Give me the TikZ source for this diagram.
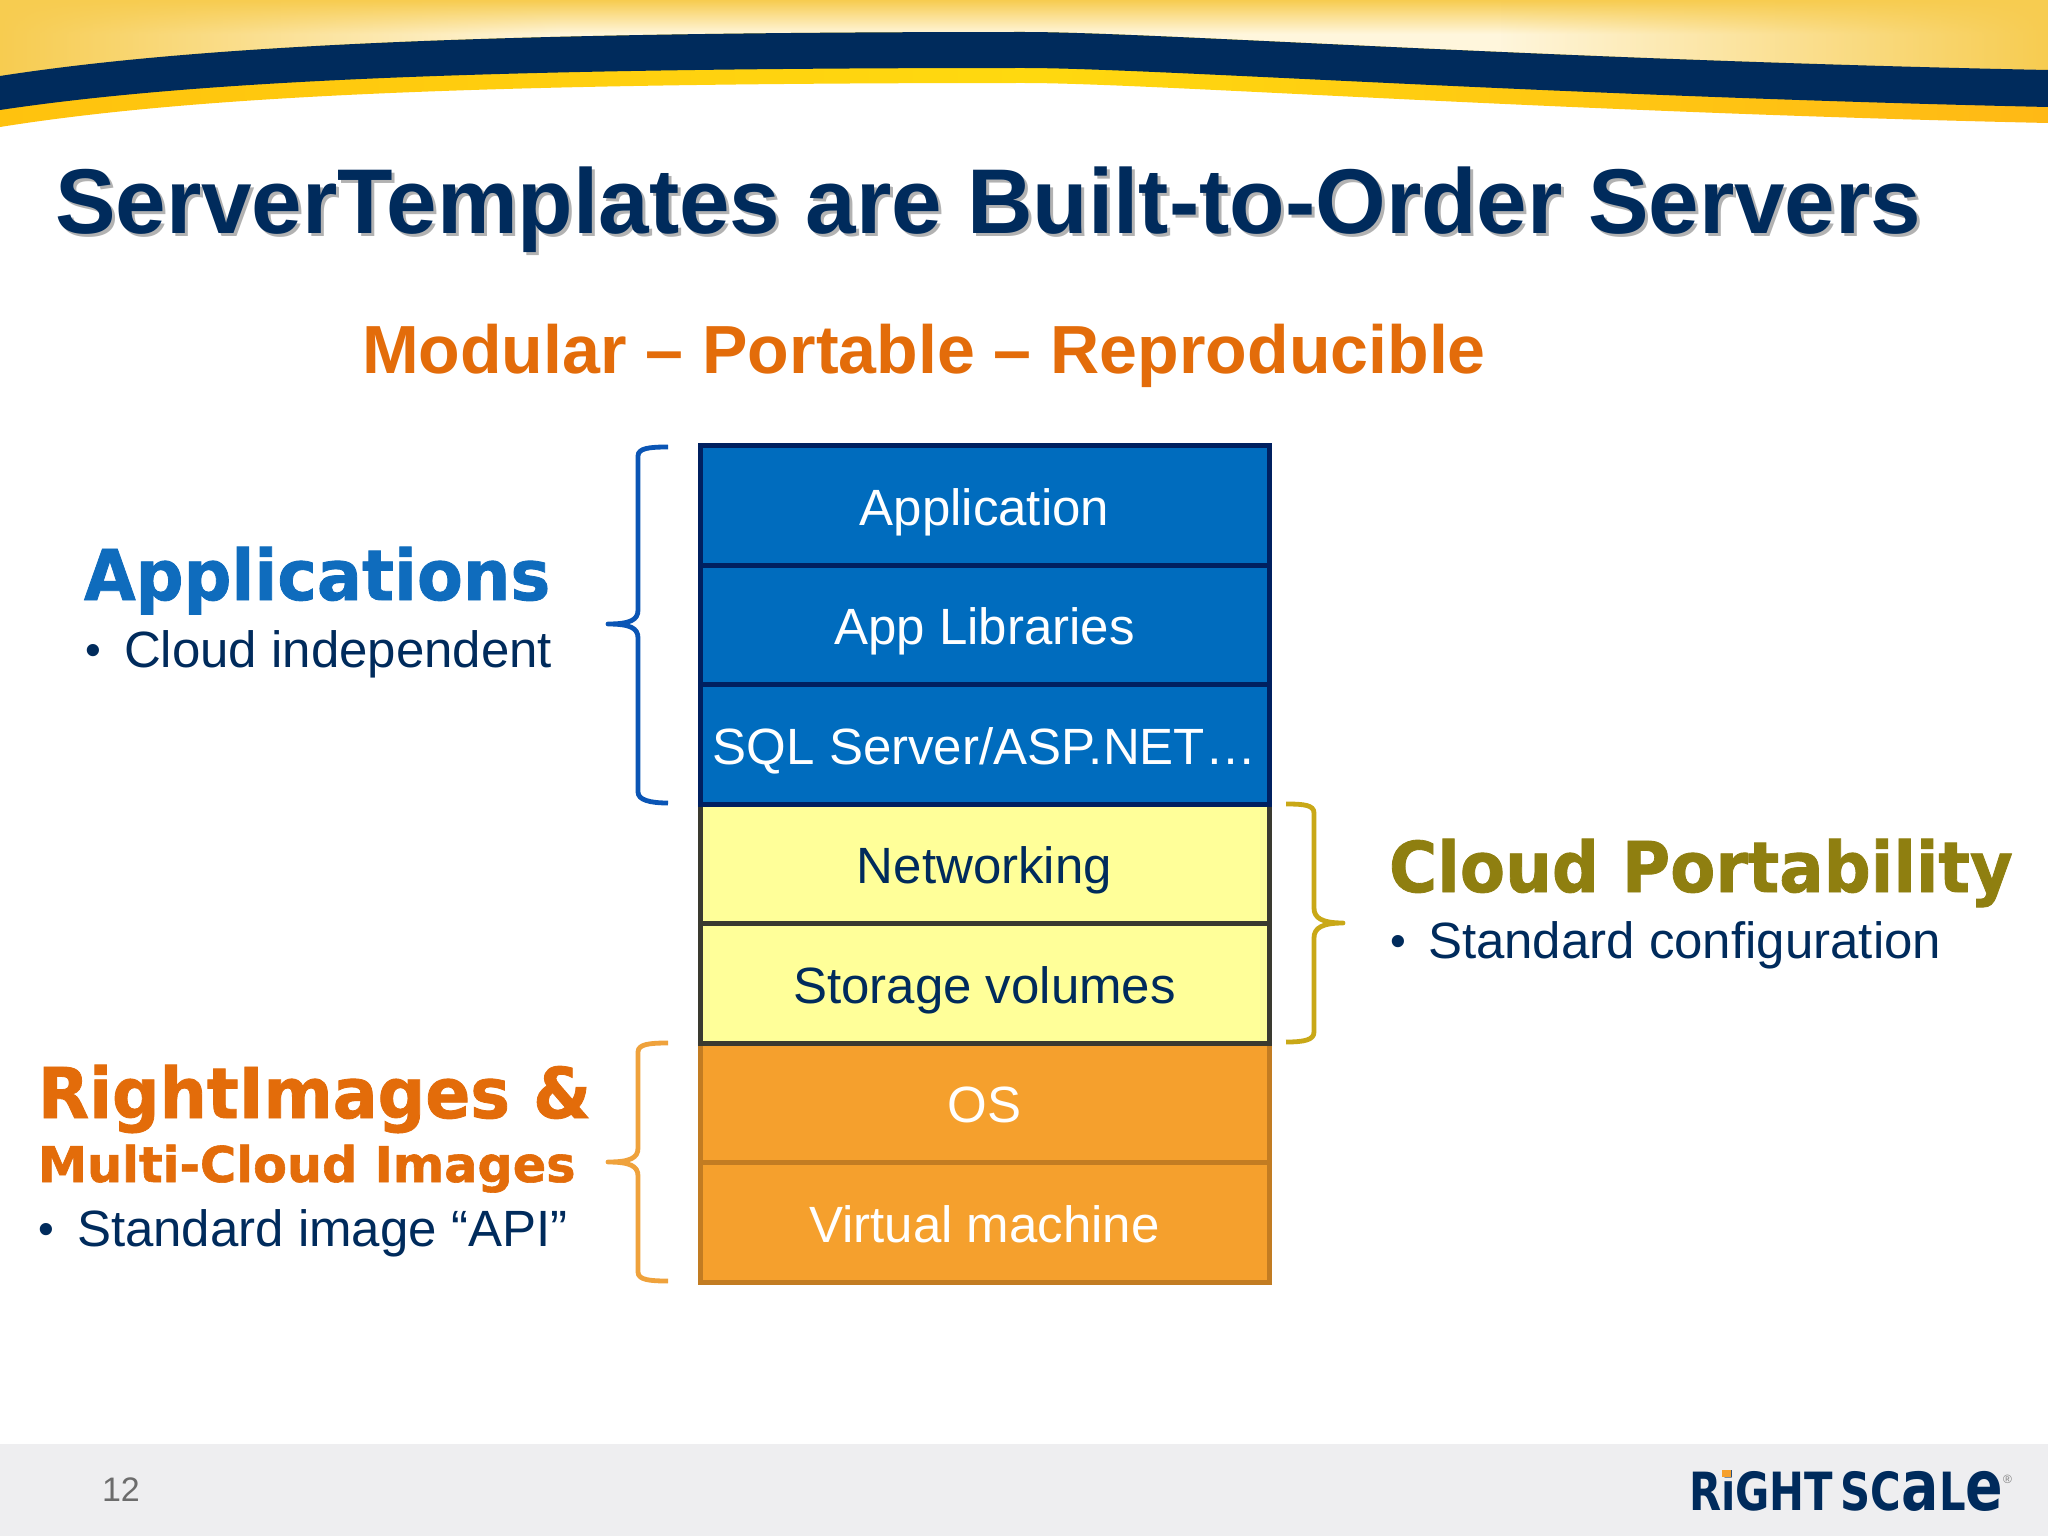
\documentclass[tikz,border=0pt]{standalone}
\usepackage{fontspec}
\usetikzlibrary{fadings,calc}
\setmainfont{Liberation Sans}
\newfontfamily\widefont{DejaVu Sans Bold}[FakeBold=1.2]
\newfontfamily\logofont{DejaVu Sans Bold}
\definecolor{navy}{HTML}{002B5C}
\definecolor{washgold}{HTML}{F7CC50}
\definecolor{washpale}{HTML}{FFF6DC}
\definecolor{bandA}{HTML}{FFC20E}
\definecolor{bandB}{HTML}{FFD90F}
\definecolor{bandC}{HTML}{FFB915}
\definecolor{stackblue}{HTML}{006CBE}
\definecolor{stackblueedge}{HTML}{002060}
\definecolor{stackyellow}{HTML}{FFFF99}
\definecolor{stackyellowedge}{HTML}{3A3A30}
\definecolor{stackorange}{HTML}{F5A02D}
\definecolor{stackorangeedge}{HTML}{C27C22}
\definecolor{titleorange}{HTML}{E36C0A}
\definecolor{bluehead}{HTML}{0F6CBD}
\definecolor{olivehead}{HTML}{8F7F10}
\definecolor{braceblue}{HTML}{0A55B5}
\definecolor{bracegold}{HTML}{C9A817}
\definecolor{braceorange}{HTML}{EFA23C}
\definecolor{footgray}{HTML}{EEEEF0}
\definecolor{logodot}{HTML}{F5A02D}
\newcommand{\fsz}[1]{\fontsize{#1}{#1}\selectfont}
\newcommand{\lowlet}[1]{{\fsz{73}#1}}
\newcommand{\smallbul}{\raisebox{2pt}{\fsz{45}•}}
\tikzset{
  rowbox/.style={draw,line width=5pt,minimum width=569pt,minimum height=119.5pt,inner sep=0pt,text height=39pt,text depth=0pt,font=\fsz{51}},
  bluerow/.style={rowbox,fill=stackblue,draw=stackblueedge,text=white},
  yellowrow/.style={rowbox,fill=stackyellow,draw=stackyellowedge,text=navy},
  orangerow/.style={rowbox,fill=stackorange,draw=stackorangeedge,text=white},
  lab/.style={anchor=base west,inner sep=0pt,outer sep=0pt},
  headtxt/.style={lab,font=\widefont\fsz{70}},
  subtxt/.style={lab,font=\fsz{51},text=navy},
  brace/.style={line width=4.8pt,line cap=butt,line join=round}
}
\begin{document}
\begin{tikzpicture}[x=1pt,y=-1pt]
\useasboundingbox (0,0) rectangle (2048,1536);
\fill[white] (0,0) rectangle (2048,1536);
% header wash
\begin{scope}
\clip (0,0) -- (0,80) -- (0,76) .. controls (200,45) and (500,32) .. (1024,32) .. controls (1150,32) and (1550,60) .. (2048,70) -- (2048,0) -- cycle;
\shade[top color=washgold,bottom color=washpale] (0,0) rectangle (2048,34);
\fill[washpale] (0,34) rectangle (2048,90);
\fill[washgold,path fading=east] (0,0) rectangle (560,90);
\fill[washgold,path fading=west] (1500,0) rectangle (2048,90);
\end{scope}
% yellow band
\shade[left color=bandA,right color=bandC,middle color=bandB]
  (0,76) .. controls (200,45) and (500,32) .. (1024,32) .. controls (1150,32) and (1550,60) .. (2048,70)
  -- (2048,123) .. controls (1550,112) and (1150,83) .. (1024,83) .. controls (500,83) and (200,95) .. (0,127) -- cycle;
% navy band
\fill[navy]
  (0,76) .. controls (200,45) and (500,32) .. (1024,32) .. controls (1150,32) and (1550,60) .. (2048,70)
  -- (2048,107) .. controls (1550,96) and (1150,68) .. (1024,68) .. controls (500,68) and (200,80) .. (0,110) -- cycle;
% footer
\fill[footgray] (0,1444) rectangle (2048,1536);
% title
\node[lab,text=gray!60] at (58,236) {\bfseries\fsz{92}\scalebox{0.9875}[1]{ServerTemplates are Built-to-Order Servers}};
\node[lab,text=navy] (title) at (55,233) {\bfseries\fsz{92}\scalebox{0.9875}[1]{ServerTemplates are Built-to-Order Servers}};
\node[lab,font=\bfseries\fsz{68.1},text=titleorange] (tagline) at (362,373) {Modular – Portable – Reproducible};
% stack
\node[orangerow] (vm) at (984.5,1222.5) {Virtual machine};
\node[orangerow] (os) at (984.5,1103) {OS};
\node[yellowrow] (storage) at (984.5,983.5) {Storage volumes};
\node[yellowrow] (net) at (984.5,864) {Networking};
\node[bluerow] (sql) at (984.5,744.5) {SQL Server/ASP.NET…};
\node[bluerow] (libs) at (984.5,625) {App Libraries};
\node[bluerow] (app) at (984.5,505.5) {Application};
% braces
\draw[brace,braceblue] (668,447) .. controls (650,447) and (638,448) .. (638,456) -- (638,610) .. controls (638,620) and (630,624) .. (608,624) .. controls (630,624) and (638,628) .. (638,638) -- (638,792) .. controls (638,800) and (650,803) .. (668,803);
\draw[brace,bracegold] (1286,804) .. controls (1304,804) and (1314,805) .. (1314,813) -- (1314,908) .. controls (1314,918) and (1322,923) .. (1343,923) .. controls (1322,923) and (1314,928) .. (1314,938) -- (1314,1032) .. controls (1314,1040) and (1304,1042) .. (1286,1042);
\draw[brace,braceorange] (668,1043) .. controls (650,1043) and (638,1044) .. (638,1052) -- (638,1148) .. controls (638,1158) and (630,1162) .. (608,1162) .. controls (630,1162) and (638,1166) .. (638,1176) -- (638,1272) .. controls (638,1280) and (650,1281) .. (668,1281);
% left and right labels
\node[headtxt,text=bluehead] (apps) at (84,600) {\scalebox{0.955}[1]{Applications}};
\node[subtxt] (cloudind) at (85,667) {\makebox[39pt][l]{\smallbul}Cloud independent};
\node[headtxt,text=olivehead] (portab) at (1389,892) {\scalebox{0.94}[1]{Cloud Portability}};
\node[subtxt] (stdconf) at (1390,958) {\makebox[38pt][l]{\smallbul}Standard configuration};
\node[headtxt,text=titleorange] (rimg) at (38,1118) {\scalebox{0.95}[1]{RightImages \&}};
\node[lab,font=\widefont\fsz{49.3},text=titleorange] (mci) at (38,1182) {Multi-Cloud Images};
\node[subtxt] (stdimg) at (38,1246) {\makebox[39pt][l]{\smallbul}Standard image “API”};
% footer text
\node[lab,font=\fsz{34},text=gray!85!black] (pagenum) at (102,1501) {12};
\node[anchor=base west,inner sep=0pt,text=navy] (logo) at (1689,1510)
  {\resizebox{314pt}{40pt}{\logofont\fsz{55}RiGHT\hspace{10pt}SC\lowlet{a}L\lowlet{e}}};
\fill[logodot] (1722,1470) rectangle (1731,1477);
\node[lab,font=\fsz{12},text=gray] (reg) at (2003,1483) {®};
\end{tikzpicture}
\end{document}
